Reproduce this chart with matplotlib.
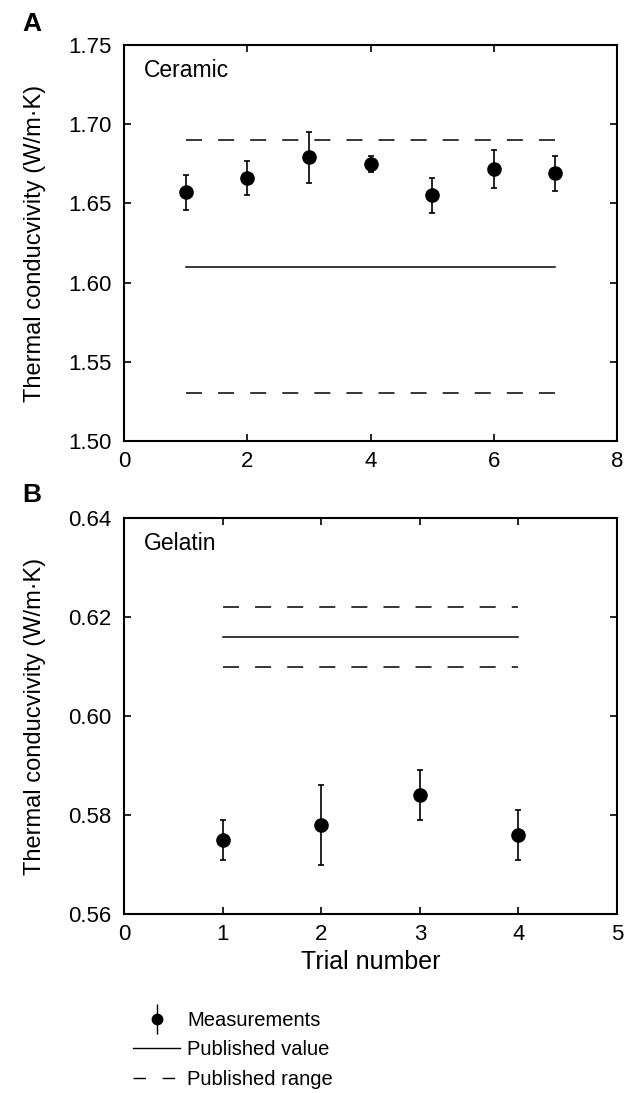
import matplotlib
matplotlib.use("Agg")
import matplotlib.pyplot as plt
from matplotlib.lines import Line2D
from matplotlib.legend_handler import HandlerErrorbar

plt.rcParams['font.family'] = ['Liberation Sans', 'DejaVu Sans']

# Panel A: Ceramic
ceramic_trials = [1, 2, 3, 4, 5, 6, 7]
ceramic_values = [1.657, 1.666, 1.679, 1.675, 1.655, 1.672, 1.669]
ceramic_errors = [0.011, 0.011, 0.016, 0.005, 0.011, 0.012, 0.011]
ceramic_published = 1.61
ceramic_range = [1.53, 1.69]

# Panel B: Gelatin
gelatin_trials = [1, 2, 3, 4]
gelatin_values = [0.575, 0.578, 0.584, 0.576]
gelatin_errors = [0.004, 0.008, 0.005, 0.005]
gelatin_published = 0.616
gelatin_range = [0.610, 0.622]

ylabel = "Thermal conducvivity (W/m\u00b7K)"

fig = plt.figure(figsize=(6.33, 10.93), dpi=100)
W, H = 633, 1093
axA = fig.add_axes([124 / W, 1 - 441 / H, (617 - 124) / W, (441 - 45) / H])
axB = fig.add_axes([124 / W, 1 - 914 / H, (617 - 124) / W, (914 - 518) / H])

dash = (0, (10.5, 10.5))

def draw(ax, trials, vals, errs, pub, rng, xlim, ylim, xticks, yticks, yfmt, title):
    x0, x1 = trials[0], trials[-1]
    ax.plot([x0, x1], [pub, pub], color='black', lw=1.1)
    for r in rng:
        ax.plot([x0, x1], [r, r], color='black', lw=1.1, linestyle=dash)
    ax.errorbar(trials, vals, yerr=errs, fmt='o', color='black', ms=9.5,
                elinewidth=1.2, capsize=2.5, capthick=1.2)
    ax.set_xlim(*xlim)
    ax.set_ylim(*ylim)
    ax.set_xticks(xticks)
    ax.set_yticks(yticks)
    ax.set_yticklabels([yfmt.format(v) for v in yticks])
    ax.tick_params(direction='in', top=True, right=True, labelsize=16,
                   length=5, width=1.2)
    ax.tick_params(axis='y', pad=9)
    ax.tick_params(axis='x', pad=7)
    for s in ax.spines.values():
        s.set_linewidth(1.5)
    ax.set_ylabel(ylabel, fontsize=17, labelpad=16)
    ax.text(0.04, 0.935, title, transform=ax.transAxes, fontsize=16.5,
            ha='left', va='center')

draw(axA, ceramic_trials, ceramic_values, ceramic_errors, ceramic_published,
     ceramic_range, (0, 8), (1.50, 1.75), [0, 2, 4, 6, 8],
     [1.50, 1.55, 1.60, 1.65, 1.70, 1.75], "{:.2f}", "Ceramic")
draw(axB, gelatin_trials, gelatin_values, gelatin_errors, gelatin_published,
     gelatin_range, (0, 5), (0.56, 0.64), [0, 1, 2, 3, 4, 5],
     [0.56, 0.58, 0.60, 0.62, 0.64], "{:.2f}", "Gelatin")
axB.set_xlabel("Trial number", fontsize=18, labelpad=4)

fig.text(22 / W, 1 - 24 / H, "A", fontsize=19, fontweight='bold', ha='left', va='center')
fig.text(22 / W, 1 - 495 / H, "B", fontsize=19, fontweight='bold', ha='left', va='center')

# Legend
h_meas = axB.errorbar([], [], yerr=[], fmt='o', color='black', ms=7.5,
                      elinewidth=1.0, capsize=3, capthick=1.0)
h_pub = Line2D([], [], color='black', lw=1.0)
h_rng = Line2D([], [], color='black', lw=1.0, linestyle=(0, (9, 12)))
fig.legend([h_meas, h_pub, h_rng], ["Measurements", "Published value", "Published range"],
           loc='upper left', bbox_to_anchor=(133 / W, 1 - 1011 / H), frameon=False,
           fontsize=14.5, handlelength=2.35, handletextpad=0.35, labelspacing=0.52,
           borderpad=0, borderaxespad=0,
           handler_map={type(h_meas): HandlerErrorbar(yerr_size=0.75)})

fig.savefig("out.png", dpi=100)
